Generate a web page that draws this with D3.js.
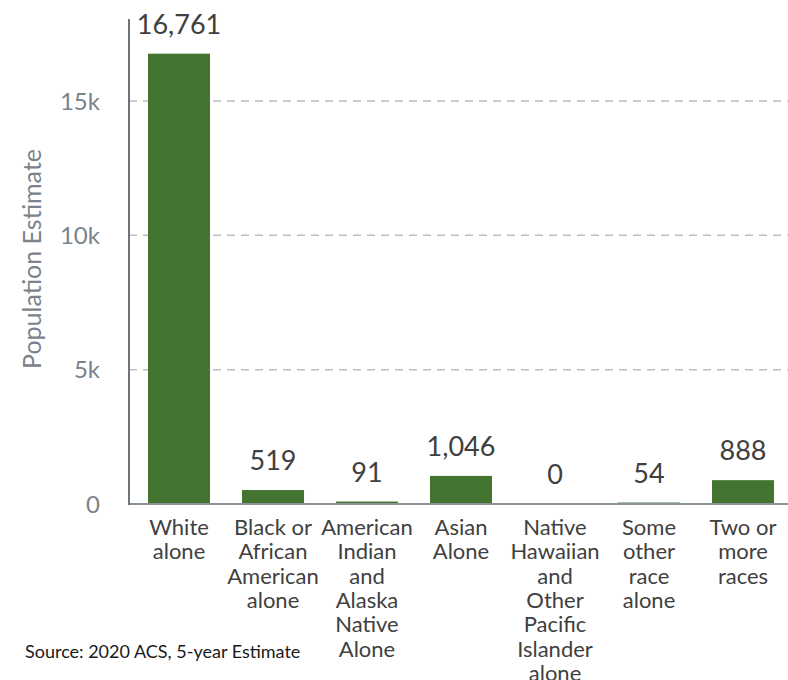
<!DOCTYPE html>
<html>
<head>
<meta charset="utf-8">
<script src="https://cdn.jsdelivr.net/npm/d3@7"></script>
<style>
  body { margin: 0; background: #fff; }
  svg { display: block; font-family: Lato, "Open Sans", sans-serif; }
</style>
</head>
<body>
<div id="chart"></div>
<script>
var width = 788,
  height = 680;

// values
var categories = [
  ["White", "alone"],
  ["Black or", "African", "American", "alone"],
  ["American", "Indian", "and", "Alaska", "Native", "Alone"],
  ["Asian", "Alone"],
  ["Native", "Hawaiian", "and", "Other", "Pacific", "Islander", "alone"],
  ["Some", "other", "race", "alone"],
  ["Two or", "more", "races"]
];
var values = [16761, 519, 91, 1046, 0, 54, 888];
var yTicks = [0, 5000, 10000, 15000];
var yTickLabels = ["0", "5k", "10k", "15k"];

var margin = {top: 19, left: 129, bottom: 504};

var svg = d3.select("#chart").append("svg")
  .attr("width", width)
  .attr("height", height);

var x = d3.scaleBand()
  .domain(d3.range(values.length))
  .range([132, 790])
  .paddingInner(0.34)
  .paddingOuter(0.17);

var y = d3.scaleLinear()
  .domain([0, 15000])
  .range([margin.bottom, 101]);

// gridlines
svg.selectAll(".grid")
  .data(yTicks.filter(function(d) { return d > 0; }))
  .enter().append("line")
    .attr("class", "grid")
    .attr("x1", margin.left)
    .attr("x2", width)
    .attr("y1", function(d) { return y(d); })
    .attr("y2", function(d) { return y(d); })
    .attr("stroke", "#bcc0c4")
    .attr("stroke-width", 1.5)
    .attr("stroke-dasharray", "8,6");

// y tick labels
svg.selectAll(".ytick")
  .data(yTicks)
  .enter().append("text")
    .attr("class", "ytick")
    .attr("x", 100)
    .attr("y", function(d) { return y(d); })
    .attr("dy", "0.36em")
    .attr("text-anchor", "end")
    .attr("fill", "#7a828b")
    .style("font-size", "24px")
    .text(function(d, i) { return yTickLabels[i]; });

svg.append("text")
  .attr("transform", "translate(41," + 259 + ") rotate(-90)")
  .attr("text-anchor", "middle")
  .attr("fill", "#7a828b")
  .style("font-size", "25px")
  .text("Population Estimate");

// bars
svg.selectAll(".bar")
  .data(values)
  .enter().append("rect")
    .attr("class", "bar")
    .attr("x", function(d, i) { return x(i); })
    .attr("width", x.bandwidth())
    .attr("y", function(d) { return y(d); })
    .attr("height", function(d) { return margin.bottom - y(d); })
    .attr("fill", "#437530");

// value labels
svg.selectAll(".val")
  .data(values)
  .enter().append("text")
    .attr("class", "val")
    .attr("x", function(d, i) { return x(i) + x.bandwidth() / 2; })
    .attr("y", function(d) { return y(d) - 20; })
    .attr("text-anchor", "middle")
    .attr("fill", "#404040")
    .style("font-size", "27px")
    .text(function(d) { return d3.format(",")(d); });

// axes lines
svg.append("line")
  .attr("x1", margin.left).attr("x2", width)
  .attr("y1", margin.bottom).attr("y2", margin.bottom)
  .attr("stroke", "#8a9199")
  .attr("stroke-width", 2);

svg.append("line")
  .attr("x1", margin.left).attr("x2", margin.left)
  .attr("y1", margin.top).attr("y2", margin.bottom + 1)
  .attr("stroke", "#6c747d")
  .attr("stroke-width", 2);

// category labels
var cat = svg.selectAll(".cat")
  .data(categories)
  .enter().append("text")
    .attr("class", "cat")
    .attr("text-anchor", "middle")
    .attr("fill", "#404040")
    .style("font-size", "22px");

cat.selectAll("tspan")
  .data(function(d, i) { return d.map(function(s) { return {s: s, i: i}; }); })
  .enter().append("tspan")
    .attr("x", function(d) { return x(d.i) + x.bandwidth() / 2; })
    .attr("y", function(d, j) { return 535 + j * 24.3; })
    .text(function(d) { return d.s; });

svg.append("text")
  .attr("x", 25)
  .attr("y", 658)
  .attr("fill", "#1a1a1a")
  .style("font-size", "18px")
  .text("Source: 2020 ACS, 5-year Estimate");
</script>
</body>
</html>
